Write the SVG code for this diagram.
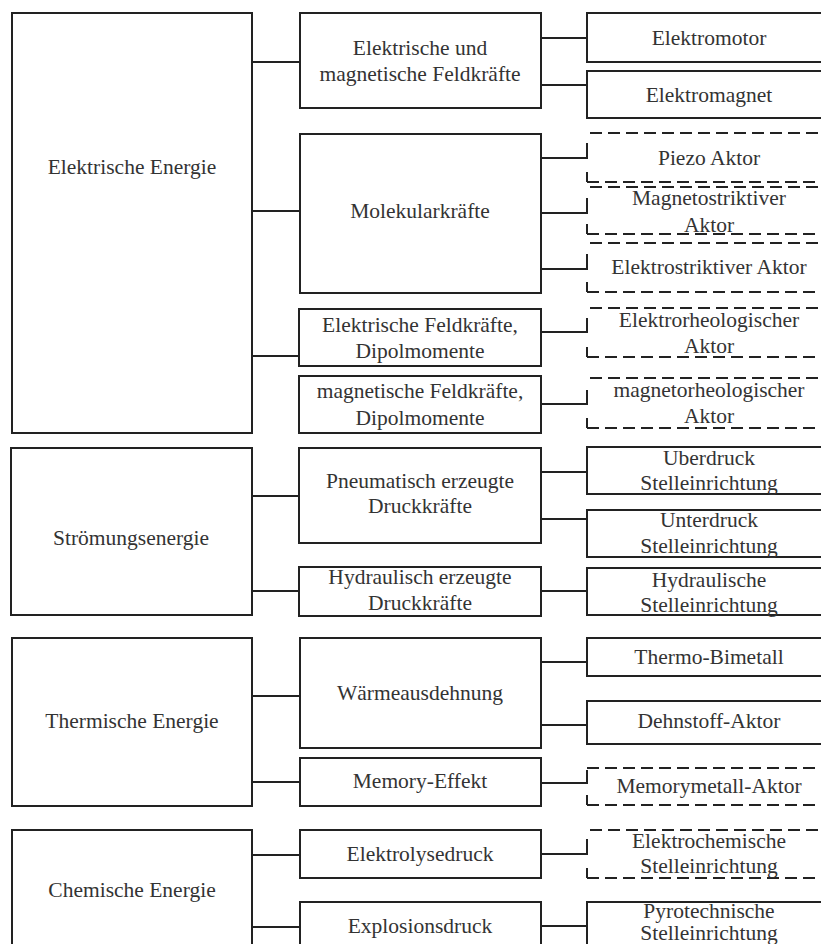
<svg xmlns="http://www.w3.org/2000/svg" width="821" height="944" viewBox="0 0 821 944">
<style>
.b{fill:#fff;stroke:#222;stroke-width:2}
.d{fill:none;stroke:#222;stroke-width:2;stroke-dasharray:12 6}
.s{fill:none;stroke:#222;stroke-width:2}
text{font-family:"Liberation Serif","Times New Roman",serif;font-size:21.5px;fill:#333;text-anchor:middle}
</style>
<rect width="821" height="944" fill="#fff"/>
<g id="connectors" class="s">
<path d="M252 62H300M252 211H300M252 356H299"/>
<path d="M541 38H587M541 85H587"/>
<path d="M541 158H587V143M541 213H587V198M541 269H587V254"/>
<path d="M541 332H587V318M541 404H587V390"/>
<path d="M252 496H299M252 591H299"/>
<path d="M541 472H587M541 519H587M541 591H587"/>
<path d="M252 696H300M252 782H300"/>
<path d="M541 662H587M541 725H587M541 783H587V770"/>
<path d="M252 855H300M252 927H300"/>
<path d="M541 854H587V839M541 926H587"/>
</g>
<g id="n-elektrische-energie"><rect class="b" x="12" y="13" width="240" height="420"/><text x="132" y="174">Elektrische Energie</text></g>
<g id="n-stroemungsenergie"><rect class="b" x="11" y="448" width="241" height="167"/><text x="131" y="545">Strömungsenergie</text></g>
<g id="n-thermische-energie"><rect class="b" x="12" y="638" width="240" height="168"/><text x="132" y="728">Thermische Energie</text></g>
<g id="n-chemische-energie"><rect class="b" x="12" y="830" width="240" height="130"/><text x="132" y="897">Chemische Energie</text></g>

<g id="n-feldkraefte"><rect class="b" x="300" y="13" width="241" height="95"/><text x="420" y="55">Elektrische und</text><text x="420" y="81">magnetische Feldkräfte</text></g>
<g id="n-molekularkraefte"><rect class="b" x="300" y="134" width="241" height="159"/><text x="420" y="218">Molekularkräfte</text></g>
<g id="n-el-feld-dipol"><rect class="b" x="299" y="309" width="242" height="57"/><text x="420" y="332">Elektrische Feldkräfte,</text><text x="420" y="358">Dipolmomente</text></g>
<g id="n-mag-feld-dipol"><rect class="b" x="299" y="376" width="242" height="57"/><text x="420" y="398">magnetische Feldkräfte,</text><text x="420" y="425">Dipolmomente</text></g>
<g id="n-pneumatisch"><rect class="b" x="299" y="448" width="242" height="95"/><text x="420" y="488">Pneumatisch erzeugte</text><text x="420" y="513">Druckkräfte</text></g>
<g id="n-hydraulisch"><rect class="b" x="299" y="567" width="242" height="49"/><text x="420" y="584">Hydraulisch erzeugte</text><text x="420" y="610">Druckkräfte</text></g>
<g id="n-waermeausdehnung"><rect class="b" x="300" y="638" width="241" height="110"/><text x="420" y="700">Wärmeausdehnung</text></g>
<g id="n-memory-effekt"><rect class="b" x="300" y="758" width="241" height="48"/><text x="420" y="788">Memory-Effekt</text></g>
<g id="n-elektrolysedruck"><rect class="b" x="300" y="830" width="241" height="48"/><text x="420" y="861">Elektrolysedruck</text></g>
<g id="n-explosionsdruck"><rect class="b" x="300" y="902" width="241" height="60"/><text x="420" y="933">Explosionsdruck</text></g>

<g id="n-elektromotor"><rect class="b" x="587" y="13" width="245" height="49"/><text x="709" y="45">Elektromotor</text></g>
<g id="n-elektromagnet"><rect class="b" x="587" y="71" width="245" height="47"/><text x="709" y="102">Elektromagnet</text></g>
<g id="n-piezo"><path class="d" d="M590 133H832M587 182H832"/><path class="s" d="M587 172V182"/><text x="709" y="165">Piezo Aktor</text></g>
<g id="n-magnetostriktiv"><path class="d" d="M590 187H832M587 234H832"/><path class="s" d="M587 224V234"/><text x="709" y="205">Magnetostriktiver</text><text x="709" y="232">Aktor</text></g>
<g id="n-elektrostriktiv"><path class="d" d="M590 243H832M587 292H832"/><path class="s" d="M587 282V292"/><text x="709" y="274">Elektrostriktiver Aktor</text></g>
<g id="n-elektrorheologisch"><path class="d" d="M590 308H832M587 357H832"/><path class="s" d="M587 347V357"/><text x="709" y="327">Elektrorheologischer</text><text x="709" y="353">Aktor</text></g>
<g id="n-magnetorheologisch"><path class="d" d="M590 378H832M587 428H832"/><path class="s" d="M587 418V428"/><text x="709" y="397">magnetorheologischer</text><text x="709" y="423">Aktor</text></g>
<g id="n-ueberdruck"><rect class="b" x="587" y="447" width="245" height="47"/><text x="709" y="465">Uberdruck</text><text x="709" y="490">Stelleinrichtung</text></g>
<g id="n-unterdruck"><rect class="b" x="587" y="510" width="245" height="47"/><text x="709" y="527">Unterdruck</text><text x="709" y="553">Stelleinrichtung</text></g>
<g id="n-hydraulische"><rect class="b" x="587" y="568" width="245" height="47"/><text x="709" y="587">Hydraulische</text><text x="709" y="612">Stelleinrichtung</text></g>
<g id="n-thermo-bimetall"><rect class="b" x="587" y="638" width="245" height="38"/><text x="709" y="664">Thermo-Bimetall</text></g>
<g id="n-dehnstoff"><rect class="b" x="587" y="701" width="245" height="43"/><text x="709" y="728">Dehnstoff-Aktor</text></g>
<g id="n-memorymetall"><path class="d" d="M587 768H832M587 805H832"/><path class="s" d="M587 795V805"/><text x="709" y="793">Memorymetall-Aktor</text></g>
<g id="n-elektrochemisch"><path class="d" d="M590 830H832M587 878H832"/><path class="s" d="M587 868V878"/><text x="709" y="848">Elektrochemische</text><text x="709" y="873">Stelleinrichtung</text></g>
<g id="n-pyrotechnisch"><rect class="b" x="587" y="902" width="245" height="60"/><text x="709" y="918">Pyrotechnische</text><text x="709" y="940">Stelleinrichtung</text></g>
</svg>
